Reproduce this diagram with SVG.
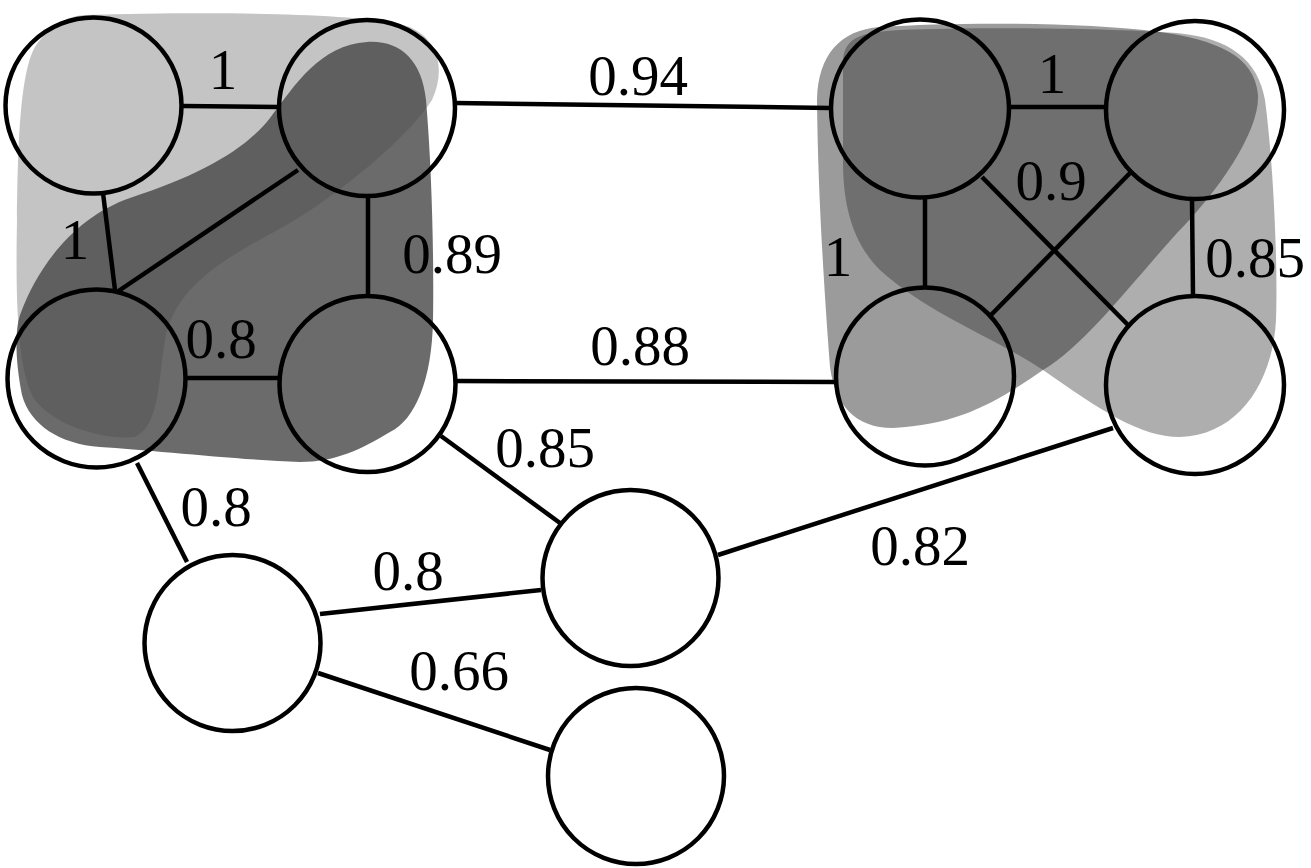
<svg xmlns="http://www.w3.org/2000/svg" width="1311" height="868" viewBox="0 0 1311 868">
<style>
.bg{fill:#ffffff}
.blobL{fill:#464646;opacity:0.32}
.blobD{fill:#464646;opacity:0.8}
.blobX{fill:#222222;opacity:0.45}
.blobY{fill:#222222;opacity:0.37}
.edge{stroke:#000;stroke-width:4.5;fill:none;stroke-linecap:butt}
.node{fill:none;stroke:#000;stroke-width:4.5}
.lbl{font-size:57px;fill:#000;text-anchor:middle}
</style>
<rect class="bg" x="0" y="0" width="1311" height="868"/>
<g id="communities">
  <path id="blob-left-dark" class="blobD" d="M367,42 C400,40 422,60 426,100 C432,170 434,260 433,320 C432,380 415,420 390,432 C360,450 335,462 300,462 C240,460 150,450 100,447 C60,444 30,425 22,395 C15,360 15,330 20,315 C40,260 80,215 130,198 C200,175 245,150 270,118 C295,85 320,45 367,42 Z"/>
  <path id="blob-left-light" class="blobL" d="M85,15 C200,12 340,12 400,24 C440,34 446,70 432,100 C410,135 340,195 283,227 C226,258 175,285 165,340 C158,380 160,425 135,437 C100,440 55,425 35,400 C15,370 16,280 17,220 C18,140 20,60 40,40 C55,22 70,16 85,15 Z"/>
  <path id="blob-right-x" class="blobX" d="M817,100 C818,55 840,30 880,27 C960,22 1080,22 1160,32 C1215,40 1255,55 1258,95 C1260,130 1220,190 1177,233 C1130,285 1085,345 1043,370 C1000,400 960,425 893,428 C855,428 835,405 830,367 C825,300 818,200 817,100 Z"/>
  <path id="blob-right-y" class="blobY" d="M843,60 C845,38 860,32 900,30 C980,27 1100,28 1177,33 C1230,38 1258,60 1265,100 C1273,160 1278,260 1276,320 C1273,380 1240,435 1180,437 C1140,437 1100,410 1043,370 C990,335 930,315 880,270 C850,240 843,200 843,160 Z"/>
</g>
<g id="connectors">
  <line class="edge" x1="183" y1="106" x2="278" y2="107"/>
  <line class="edge" x1="103" y1="193" x2="115" y2="290"/>
  <line class="edge" x1="298" y1="170" x2="117" y2="292"/>
  <line class="edge" x1="368" y1="197" x2="368" y2="296"/>
  <line class="edge" x1="186" y1="378" x2="279" y2="378"/>
  <line class="edge" x1="455" y1="103" x2="830" y2="108"/>
  <line class="edge" x1="456" y1="381" x2="835" y2="382"/>
  <line class="edge" x1="137" y1="463" x2="187" y2="562"/>
  <line class="edge" x1="441" y1="436" x2="560" y2="523"/>
  <line class="edge" x1="320" y1="614" x2="541" y2="590"/>
  <line class="edge" x1="318" y1="673" x2="550" y2="750"/>
  <line class="edge" x1="718" y1="555" x2="1113" y2="428"/>
  <line class="edge" x1="1008" y1="107" x2="1106" y2="107"/>
  <line class="edge" x1="925" y1="197" x2="925" y2="288"/>
  <line class="edge" x1="982" y1="177" x2="1130" y2="327"/>
  <line class="edge" x1="1131" y1="172" x2="991" y2="315"/>
  <line class="edge" x1="1192" y1="199" x2="1193" y2="296"/>
</g>
<g id="nodeA"><circle class="node" cx="93.5" cy="105.5" r="88"/></g>
<g id="nodeB"><circle class="node" cx="367" cy="108" r="88"/></g>
<g id="nodeC"><circle class="node" cx="96.5" cy="378.5" r="89"/></g>
<g id="nodeD"><circle class="node" cx="367.5" cy="384" r="88"/></g>
<g id="nodeE"><circle class="node" cx="920" cy="108.5" r="89"/></g>
<g id="nodeF"><circle class="node" cx="1195" cy="110" r="89"/></g>
<g id="nodeG"><circle class="node" cx="925" cy="376.5" r="89"/></g>
<g id="nodeH"><circle class="node" cx="1195" cy="385" r="89"/></g>
<g id="nodeI"><circle class="node" cx="630.5" cy="578" r="88"/></g>
<g id="nodeJ"><circle class="node" cx="232.5" cy="643" r="88"/></g>
<g id="nodeK"><circle class="node" cx="636" cy="776" r="88"/></g>
<g id="labels" font-family="Liberation Serif, Times New Roman, serif">
  <text class="lbl" x="223" y="89">1</text>
  <text class="lbl" x="75" y="259">1</text>
  <text class="lbl" x="452" y="273">0.89</text>
  <text class="lbl" x="221" y="358">0.8</text>
  <text class="lbl" x="638" y="95">0.94</text>
  <text class="lbl" x="640" y="365">0.88</text>
  <text class="lbl" x="838" y="276">1</text>
  <text class="lbl" x="1052" y="93">1</text>
  <text class="lbl" x="1051" y="200">0.9</text>
  <text class="lbl" x="1255" y="277">0.85</text>
  <text class="lbl" x="545" y="467">0.85</text>
  <text class="lbl" x="216" y="526">0.8</text>
  <text class="lbl" x="408" y="590">0.8</text>
  <text class="lbl" x="459" y="690">0.66</text>
  <text class="lbl" x="920" y="565">0.82</text>
</g>
</svg>
